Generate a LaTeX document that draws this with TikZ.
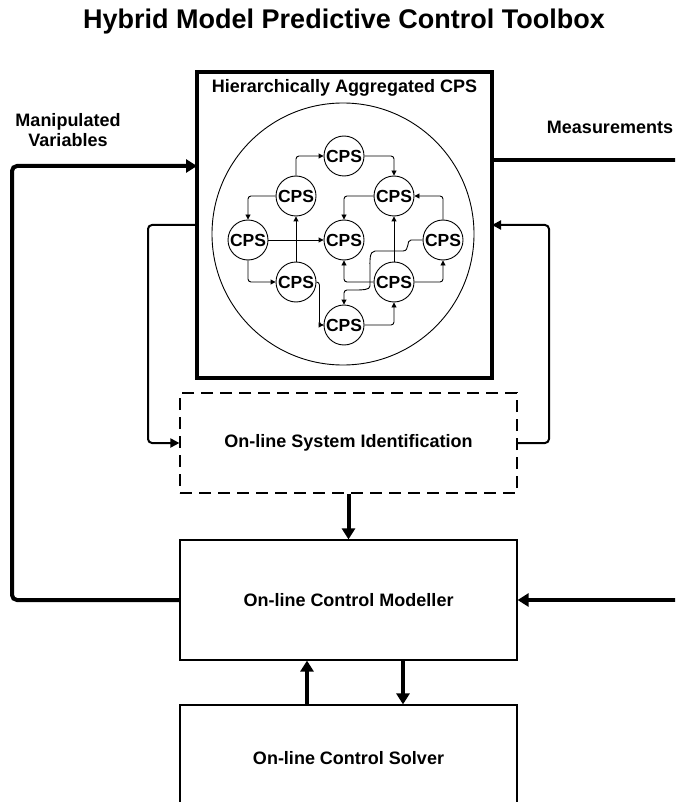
\documentclass[tikz,border=0pt]{standalone}
\usepackage{fontspec}
\setmainfont{Liberation Sans}
\usetikzlibrary{arrows.meta,calc}
\begin{document}
\begin{tikzpicture}[x=1pt,y=-1pt,
 lbl/.style={font=\bfseries\fontsize{18}{21}\selectfont, align=center, inner sep=0pt},
 box/.style={draw, line width=1.2pt, minimum width=337pt, inner sep=0pt, font=\bfseries\fontsize{18}{21}\selectfont},
 cps/.style={draw, circle, line width=0.9pt, minimum size=40pt, inner sep=0pt, font=\bfseries\fontsize{17.5}{17.5}\selectfont},
 link/.style={line width=0.9pt, rounded corners=3pt, -{Triangle[length=5pt,width=5pt]}},
 thinloop/.style={line width=2pt, rounded corners=4pt, -{Triangle[length=9pt,width=9pt]}},
 bigarrow/.style={line width=4pt, rounded corners=5pt, -{Triangle[length=11pt,width=13pt]}},
 bigline/.style={line width=4pt},
]
\useasboundingbox (0,0) rectangle (675,802);
\clip (0,0) rectangle (675,802);

% title
\node[font=\bfseries\fontsize{27}{30}\selectfont, inner sep=0pt] (title) at (344,22) {Hybrid Model Predictive Control Toolbox};

% system square
\node[draw, line width=3.5pt, minimum width=295pt, minimum height=306pt, inner sep=0pt] (sys) at (344.5,225) {};
\node[lbl] (systitle) at (344.5,88) {Hierarchically Aggregated CPS};
\node[draw, circle, line width=0.9pt, minimum size=262pt, inner sep=0pt] (ring) at (343,234) {};

% CPS nodes
\node[cps] (A) at (344,156) {CPS};
\node[cps] (B) at (296,196) {CPS};
\node[cps] (C) at (248,240) {CPS};
\node[cps] (D) at (344,240) {CPS};
\node[cps] (E) at (394,196) {CPS};
\node[cps] (F) at (443,240) {CPS};
\node[cps] (G) at (296,282) {CPS};
\node[cps] (H) at (394,282) {CPS};
\node[cps] (I) at (344,325) {CPS};

\draw[link] (B.north) |- (A.west);
\draw[link] (A.east) -| (E.north);
\draw[link] (B.west) -| (C.north);
\draw[link] (C.east) -- (D.west);
\draw[link] (G.north) -- (B.south);
\draw[link] (C.south) |- (G.west);
\draw[link] (G.east) -- ++(3,0) |- (I.west);
\draw[link] (E.west) -| (D.north);
\draw[link] (H.north) -- (E.south);
\draw[link] (F.north) |- (E.east);
\draw[link] (H.east) -| (F.south);
\draw[link] (H.west) -| (D.south);
\draw[link] (I.east) -| (H.south);
\draw[link] (F.west) -- (414,240) .. controls (406,240) and (410,251) .. (400,251) -- (378,251)
  .. controls (369,251) and (370,262) .. (370,272) -- (370,283)
  .. controls (370,290) and (362,290) .. (352,290) -| (I.north);

% lower boxes
\node[box, dashed, dash pattern=on 12pt off 7pt, minimum height=100pt] (ident) at (348.5,443) {On-line System Identification};
\node[box, minimum height=120pt] (mod) at (348.5,600) {On-line Control Modeller};
\node[box, minimum height=120pt, text height=0pt] (sol) at (348.5,765) {};
\node[lbl] (soltext) at (348.5,758) {On-line Control Solver};

% side labels
\node[lbl] (mv) at (68,130) {Manipulated\\[-1pt]Variables};
\node[lbl] (meas) at (610,127) {Measurements};

% coordinates for loop bends
\coordinate (mvL) at (12,600);
\coordinate (mvT) at (12,166);
\coordinate (mvIn) at (197,166);
\coordinate (msOut) at (492,160);
\coordinate (msR) at (690,160);
\coordinate (msB) at (690,600);
\coordinate (lOut) at (197,225);
\coordinate (lB) at (148,225);
\coordinate (rIn) at (492,225);
\coordinate (rB) at (549,225);

% thick loops
\draw[bigarrow] (mod.west) -- (mvL) -- (mvT) -- (mvIn);
\draw[bigline] (msOut) -- (msR) -- (msB);
\draw[bigarrow] (msB) -- (mod.east);

% thin loops
\draw[thinloop] (lOut) -- (lB) |- (ident.west);
\draw[thinloop] (ident.east) -| (rB) -- (rIn);

% vertical arrows
\draw[bigarrow] (ident.south) -- (mod.north);
\draw[bigarrow] (sol.north -| 307,0) -- (mod.south -| 307,0);
\draw[bigarrow] (mod.south -| 403,0) -- (sol.north -| 403,0);
\end{tikzpicture}
\end{document}
